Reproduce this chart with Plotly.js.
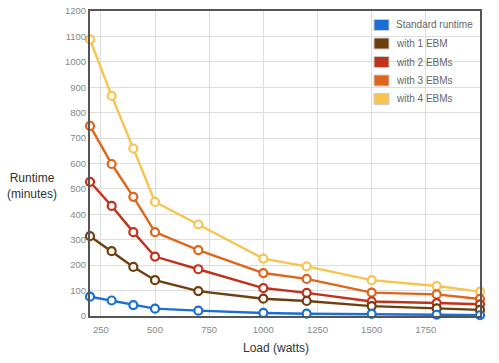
<!DOCTYPE html>
<html>
<head>
<meta charset="utf-8">
<script src="https://cdn.plot.ly/plotly-3.0.1.min.js"></script>
<style>html,body{margin:0;padding:0;background:#fff;}#chart{width:499px;height:363px;}</style>
</head>
<body>
<div id="chart"></div>
<script>
var loadWatts = [200, 300, 400, 500, 700, 1000, 1200, 1500, 1800, 2000];
var seriesNames = ["Standard runtime", "with 1 EBM", "with 2 EBMs", "with 3 EBMs", "with 4 EBMs"];
var standardRuntime = [76, 61, 43, 29, 21, 12, 9, 8, 5, 3];
var with1EBM = [314, 255, 193, 141, 98, 68, 59, 39, 30, 24];
var with2EBMs = [528, 433, 330, 234, 184, 110, 91, 57, 51, 46];
var with3EBMs = [748, 598, 469, 330, 259, 169, 146, 92, 85, 67];
var with4EBMs = [1088, 866, 659, 449, 360, 226, 195, 141, 118, 96];
var colors = ["#1a6fd6", "#6e3f0c", "#c2321a", "#df6519", "#f7c450"];
var xTicks = [250, 500, 750, 1000, 1250, 1500, 1750];

var W = 499, H = 363, ML = 90, MR = 19, MT = 11, MB = 47;
var PW = W - ML - MR, PH = H - MT - MB;
function px(x) { return (x - ML) / PW; }
function py(y) { return (H - MB - y) / PH; }

var allSeries = [standardRuntime, with1EBM, with2EBMs, with3EBMs, with4EBMs];
var traces = [];
for (var j = allSeries.length - 1; j >= 0; j--) {
  traces.push({
    type: 'scatter', mode: 'lines+markers', x: loadWatts, y: allSeries[j],
    name: seriesNames[j], showlegend: false,
    line: {color: colors[j], width: 2.4},
    marker: {symbol: 'circle', size: 8, color: '#ffffff', line: {color: colors[j], width: 2.2}},
    cliponaxis: false
  });
}

var shapes = [], annotations = [];
for (var i = 0; i < seriesNames.length; i++) {
  var cy = 25 + i * 18.5;
  shapes.push({type: 'rect', xref: 'paper', yref: 'paper',
    x0: px(374), x1: px(389), y0: py(cy + 5.5), y1: py(cy - 5.5),
    fillcolor: colors[i], line: {color: '#cccccc', width: 1}});
  annotations.push({xref: 'paper', yref: 'paper', x: px(394), y: py(cy),
    xanchor: 'left', yanchor: 'middle', showarrow: false,
    text: seriesNames[i], font: {size: 10, color: '#666'}});
}
annotations.push({xref: 'paper', yref: 'paper', x: px(32), y: py(185.5), xanchor: 'center', yanchor: 'middle',
  text: 'Runtime<br>(minutes)', showarrow: false, font: {size: 12, color: '#333'}, align: 'center'});
annotations.push({xref: 'paper', yref: 'paper', x: px(276), y: py(348), xanchor: 'center', yanchor: 'middle',
  text: 'Load (watts)', showarrow: false, font: {size: 12, color: '#333'}});

var layout = {
  width: W, height: H,
  margin: {l: ML, r: MR, t: MT, b: MB},
  paper_bgcolor: '#ffffff', plot_bgcolor: '#ffffff',
  font: {family: 'Liberation Sans, Arial, sans-serif', color: '#555'},
  showlegend: false,
  xaxis: {
    type: 'linear', range: [200, 2000],
    tickvals: xTicks, ticktext: xTicks.map(String),
    showgrid: true, gridcolor: '#dddddd', gridwidth: 1,
    zeroline: false, showline: true, linecolor: '#555', linewidth: 2, mirror: true,
    ticks: '', tickfont: {size: 9.5, color: '#888'}, ticklabelstandoff: 4
  },
  yaxis: {
    type: 'linear', range: [0, 1200], dtick: 100,
    showgrid: true, gridcolor: '#dddddd', gridwidth: 1,
    zeroline: false, showline: true, linecolor: '#555', linewidth: 2, mirror: true,
    ticks: '', tickfont: {size: 9.5, color: '#888'}
  },
  shapes: shapes,
  annotations: annotations
};
Plotly.newPlot('chart', traces, layout, {displayModeBar: false, staticPlot: true});
</script>
</body>
</html>
